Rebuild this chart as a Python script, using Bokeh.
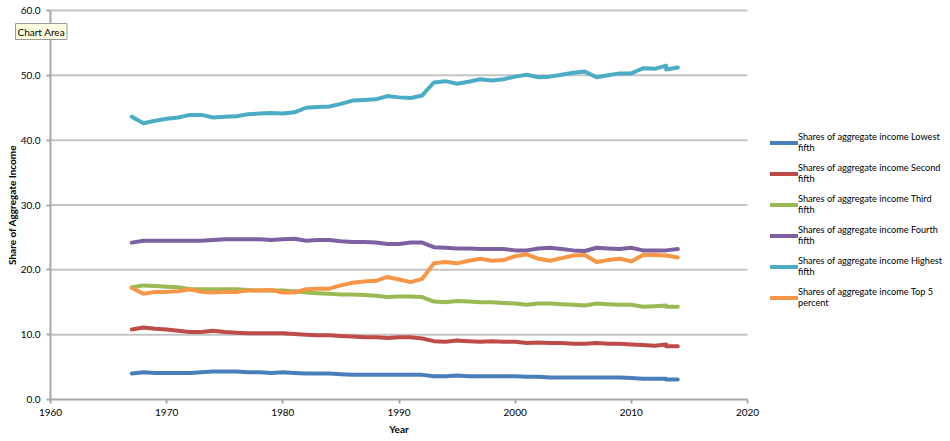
from bokeh.plotting import figure
from bokeh.models import Range1d, Legend, LegendItem, NumeralTickFormatter, FixedTicker, Label
from bokeh.embed import file_html
from bokeh.resources import INLINE

years = [1967, 1968, 1969, 1970, 1971, 1972, 1973, 1974, 1975, 1976, 1977, 1978, 1979,
         1980, 1981, 1982, 1983, 1984, 1985, 1986, 1987, 1988, 1989, 1990, 1991, 1992,
         1993, 1994, 1995, 1996, 1997, 1998, 1999, 2000, 2001, 2002, 2003, 2004, 2005,
         2006, 2007, 2008, 2009, 2010, 2011, 2012, 2013, 2013, 2014]

lowest = [4.0, 4.2, 4.1, 4.1, 4.1, 4.1, 4.2, 4.3, 4.3, 4.3, 4.2, 4.2, 4.1,
          4.2, 4.1, 4.0, 4.0, 4.0, 3.9, 3.8, 3.8, 3.8, 3.8, 3.8, 3.8, 3.8,
          3.6, 3.6, 3.7, 3.6, 3.6, 3.6, 3.6, 3.6, 3.5, 3.5, 3.4, 3.4, 3.4,
          3.4, 3.4, 3.4, 3.4, 3.3, 3.2, 3.2, 3.2, 3.1, 3.1]
second = [10.8, 11.1, 10.9, 10.8, 10.6, 10.4, 10.4, 10.6, 10.4, 10.3, 10.2, 10.2, 10.2,
          10.2, 10.1, 10.0, 9.9, 9.9, 9.8, 9.7, 9.6, 9.6, 9.5, 9.6, 9.6, 9.4,
          9.0, 8.9, 9.1, 9.0, 8.9, 9.0, 8.9, 8.9, 8.7, 8.8, 8.7, 8.7, 8.6,
          8.6, 8.7, 8.6, 8.6, 8.5, 8.4, 8.3, 8.5, 8.2, 8.2]
third = [17.3, 17.6, 17.5, 17.4, 17.3, 17.0, 17.0, 17.0, 17.0, 17.0, 16.9, 16.8, 16.8,
         16.8, 16.7, 16.5, 16.4, 16.3, 16.2, 16.2, 16.1, 16.0, 15.8, 15.9, 15.9, 15.8,
         15.1, 15.0, 15.2, 15.1, 15.0, 15.0, 14.9, 14.8, 14.6, 14.8, 14.8, 14.7, 14.6,
         14.5, 14.8, 14.7, 14.6, 14.6, 14.3, 14.4, 14.5, 14.3, 14.3]
fourth = [24.2, 24.5, 24.5, 24.5, 24.5, 24.5, 24.5, 24.6, 24.7, 24.7, 24.7, 24.7, 24.6,
          24.7, 24.8, 24.5, 24.6, 24.6, 24.4, 24.3, 24.3, 24.2, 24.0, 24.0, 24.2, 24.2,
          23.5, 23.4, 23.3, 23.3, 23.2, 23.2, 23.2, 23.0, 23.0, 23.3, 23.4, 23.2, 23.0,
          22.9, 23.4, 23.3, 23.2, 23.4, 23.0, 23.0, 23.0, 23.0, 23.2]
highest = [43.6, 42.6, 43.0, 43.3, 43.5, 43.9, 43.9, 43.5, 43.6, 43.7, 44.0, 44.1, 44.2,
           44.1, 44.3, 45.0, 45.1, 45.2, 45.6, 46.1, 46.2, 46.3, 46.8, 46.6, 46.5, 46.9,
           48.9, 49.1, 48.7, 49.0, 49.4, 49.2, 49.4, 49.8, 50.1, 49.7, 49.8, 50.1, 50.4,
           50.6, 49.7, 50.0, 50.3, 50.3, 51.1, 51.0, 51.5, 50.9, 51.2]
top5 = [17.2, 16.3, 16.6, 16.6, 16.7, 17.0, 16.6, 16.5, 16.6, 16.6, 16.8, 16.8, 16.9,
        16.5, 16.5, 17.0, 17.1, 17.1, 17.6, 18.0, 18.2, 18.3, 18.9, 18.5, 18.1, 18.6,
        21.0, 21.2, 21.0, 21.4, 21.7, 21.4, 21.5, 22.1, 22.4, 21.7, 21.4, 21.8, 22.2,
        22.3, 21.2, 21.5, 21.7, 21.3, 22.3, 22.3, 22.2, 22.2, 21.9]

series_names = [
    "Shares of aggregate income Lowest\nfifth",
    "Shares of aggregate income Second\nfifth",
    "Shares of aggregate income Third\nfifth",
    "Shares of aggregate income Fourth\nfifth",
    "Shares of aggregate income Highest\nfifth",
    "Shares of aggregate income Top 5\npercent",
]
series_values = [lowest, second, third, fourth, highest, top5]
colors = ["#4A7EBB", "#BE4B48", "#98B954", "#7D60A0", "#4BACC6", "#F79646"]

x_ticks = [1960, 1970, 1980, 1990, 2000, 2010, 2020]
y_ticks = [0, 10, 20, 30, 40, 50, 60]
x_title = "Year"
y_title = "Share of Aggregate Income"

FONT = "Lato"

# frame covers the whole canvas; axes are bounded to the data area
PX_PER_YEAR = 697 / 60.0
PX_PER_UNIT = 389 / 60.0
FRAME_W, FRAME_H = 942, 436
x_start = x_ticks[0] - 50 / PX_PER_YEAR
x_end = x_ticks[0] + (FRAME_W - 50) / PX_PER_YEAR
y_end = 399 / PX_PER_UNIT
y_start = -(FRAME_H - 399) / PX_PER_UNIT

p = figure(frame_width=FRAME_W, frame_height=FRAME_H, output_backend="svg", toolbar_location=None,
           x_range=Range1d(x_start, x_end), y_range=Range1d(y_start, y_end),
           min_border_left=0, min_border_top=0, min_border_bottom=0, min_border_right=0)
p.outline_line_color = None
p.background_fill_color = "white"
p.border_fill_color = "white"

p.xgrid.visible = False
p.ygrid.visible = False
# horizontal gridlines between the first and last x tick
p.segment(x0=[x_ticks[0]] * len(y_ticks[1:]), x1=[x_ticks[-1]] * len(y_ticks[1:]),
          y0=y_ticks[1:], y1=y_ticks[1:], line_color="#c4c4c4", line_width=2)

renderers = []
for vals, col in zip(series_values, colors):
    r = p.line(years, vals, line_color=col, line_width=4, line_join="round", line_cap="round")
    renderers.append(r)

p.xaxis.ticker = FixedTicker(ticks=x_ticks)
p.yaxis.ticker = FixedTicker(ticks=y_ticks)
p.yaxis.formatter = NumeralTickFormatter(format="0.0")
p.xaxis.bounds = (x_ticks[0], x_ticks[-1])
p.yaxis.bounds = (y_ticks[0], y_ticks[-1])
p.yaxis.fixed_location = x_ticks[0]
p.xaxis.fixed_location = y_ticks[0]

for ax in (p.xaxis, p.yaxis):
    ax.axis_line_color = "#a8a8a8"
    ax.axis_line_width = 2
    ax.major_tick_line_color = "#a8a8a8"
    ax.major_tick_line_width = 2
    ax.major_tick_out = 4
    ax.major_tick_in = 0
    ax.minor_tick_line_color = None
    ax.major_label_text_font = FONT
    ax.major_label_text_font_size = "10px"
    ax.major_label_text_color = "black"
    ax.axis_label_text_font = FONT
    ax.axis_label_text_font_size = "10px"
    ax.axis_label_text_font_style = "bold"
    ax.axis_label_text_color = "black"

p.yaxis.axis_label = y_title
p.xaxis.major_label_standoff = 5
p.yaxis.major_label_standoff = 6
p.yaxis.axis_label_standoff = 0

# x-axis title centred under the bounded axis
p.add_layout(Label(x=(x_ticks[0] + x_ticks[-1]) / 2, y=-(428 - 399) / PX_PER_UNIT, text=x_title,
                   text_font=FONT, text_font_size="10px", text_font_style="bold",
                   text_color="black", text_align="center", text_baseline="middle"))

items = [LegendItem(label=n, renderers=[r]) for n, r in zip(series_names, renderers)]
legend = Legend(items=items, location=(770, 126), label_text_font=FONT,
                label_text_font_size="9.2px", label_text_color="black",
                glyph_width=28, glyph_height=13, spacing=5, padding=0, margin=0,
                label_standoff=0, border_line_color=None, background_fill_alpha=0,
                label_height=26)
p.add_layout(legend)

tip = Label(x=x_start + 15 / PX_PER_YEAR, y=(399 - 23) / PX_PER_UNIT, text="Chart Area",
            text_font=FONT, text_font_size="10px", text_color="black",
            text_align="left", text_baseline="top",
            background_fill_color="#FFFFE1", border_line_color="#9a9a9a", padding=2)
p.add_layout(tip)

open("out.html", "w").write(file_html(p, INLINE))
